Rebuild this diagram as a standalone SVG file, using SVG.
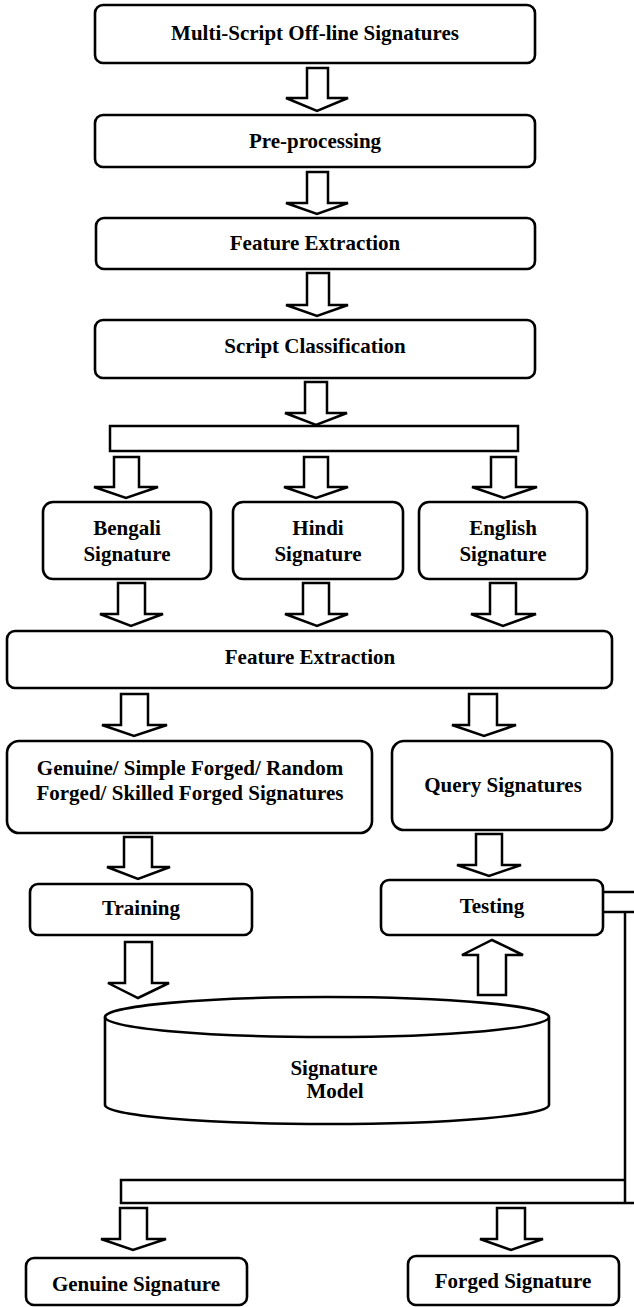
<svg xmlns="http://www.w3.org/2000/svg" width="634" height="1307" viewBox="0 0 634 1307">
<style>
.box{fill:#fff;stroke:#000;stroke-width:2.6}
.arr{fill:#fff;stroke:#000;stroke-width:2.5;stroke-linejoin:miter}
.ln{fill:none;stroke:#000;stroke-width:2.5}
.t{font-family:"Liberation Serif","Times New Roman",serif;font-weight:bold;font-size:21px;fill:#000;text-anchor:middle}
</style>
<rect width="634" height="1307" fill="#fff"/>
<g id="connectors">
<polygon class="arr" points="307,68 328,68 328,98 348,98 317,111 286,98 307,98"/>
<polygon class="arr" points="307,172 328,172 328,203 348,203 317,214 286,203 307,203"/>
<polygon class="arr" points="307,273 329,273 329,305 348,305 317,316 286,305 307,305"/>
<polygon class="arr" points="305,382 327,382 327,413 347,413 316,425 285,413 305,413"/>
<rect id="split1" class="ln" x="110" y="426" width="408" height="25" style="fill:#fff"/>
<polygon class="arr" points="114,457 139,457 139,487 158,487 126,498 94,487 114,487"/>
<polygon class="arr" points="304,457 328,457 328,487 348,487 316,498 284,487 304,487"/>
<polygon class="arr" points="491,457 516,457 516,487 537,487 504,498 472,487 491,487"/>
<polygon class="arr" points="118,583 145,583 145,614 163,614 131,626 100,614 118,614"/>
<polygon class="arr" points="303,583 329,583 329,614 348,614 317,626 285,614 303,614"/>
<polygon class="arr" points="490,583 516,583 516,614 536,614 503,626 471,614 490,614"/>
<polygon class="arr" points="121,694 148,694 148,725 167,725 134,736 102,725 121,725"/>
<polygon class="arr" points="469,694 497,694 497,725 516,725 484,736 452,725 469,725"/>
<polygon class="arr" points="124,837 152,837 152,867 170,867 138,879 107,867 124,867"/>
<polygon class="arr" points="476,834 502,834 502,865 521,865 489,876 457,865 476,865"/>
<polygon class="arr" points="125,942 152,942 152,983 169,983 138,998 108,983 125,983"/>
<polygon class="arr" points="478,995 506,995 506,955 523,955 492,940 462,955 478,955"/>
<path class="ln" d="M603,892 H634 M603,912 H634 M625,912 V1203 M625,1180 H121 V1203 H634"/>
<polygon class="arr" points="120,1208 147,1208 147,1239 166,1239 133,1250 101,1239 120,1239"/>
<polygon class="arr" points="497,1208 525,1208 525,1239 543,1239 511,1250 480,1239 497,1239"/>
</g>
<g id="n1"><rect class="box" x="95" y="5" width="440" height="58" rx="8"/><text class="t" x="315" y="40">Multi-Script Off-line Signatures</text></g>
<g id="n2"><rect class="box" x="95" y="115" width="440" height="52" rx="8"/><text class="t" x="315" y="148">Pre-processing</text></g>
<g id="n3"><rect class="box" x="96" y="218" width="439" height="51" rx="8"/><text class="t" x="315" y="250">Feature Extraction</text></g>
<g id="n4"><rect class="box" x="95" y="320" width="440" height="58" rx="8"/><text class="t" x="315" y="353">Script Classification</text></g>
<g id="n5"><rect class="box" x="43" y="502" width="168" height="77" rx="10"/><text class="t" x="127" y="535">Bengali</text><text class="t" x="127" y="561">Signature</text></g>
<g id="n6"><rect class="box" x="233" y="502" width="170" height="77" rx="10"/><text class="t" x="318" y="535">Hindi</text><text class="t" x="318" y="561">Signature</text></g>
<g id="n7"><rect class="box" x="419" y="502" width="168" height="77" rx="10"/><text class="t" x="503" y="535">English</text><text class="t" x="503" y="561">Signature</text></g>
<g id="n8"><rect class="box" x="7" y="631" width="605" height="57" rx="8"/><text class="t" x="310" y="664">Feature Extraction</text></g>
<g id="n9"><rect class="box" x="7" y="741" width="365" height="92" rx="12"/><text class="t" x="190" y="775">Genuine/ Simple Forged/ Random</text><text class="t" x="190" y="800">Forged/ Skilled Forged Signatures</text></g>
<g id="n10"><rect class="box" x="392" y="741" width="220" height="89" rx="12"/><text class="t" x="503" y="792">Query Signatures</text></g>
<g id="n11"><rect class="box" x="30" y="884" width="222" height="51" rx="8"/><text class="t" x="141" y="915">Training</text></g>
<g id="n12"><rect class="box" x="381" y="880" width="222" height="55" rx="8"/><text class="t" x="492" y="913">Testing</text></g>
<g id="n13"><path class="box" d="M105,1017 A222,20 0 0,1 549,1017 L549,1105 A222,19 0 0,1 105,1105 Z"/><path class="ln" d="M105,1017 A222,20 0 0,0 549,1017"/><text class="t" x="334" y="1075">Signature</text><text class="t" x="335" y="1098">Model</text></g>
<g id="n14"><rect class="box" x="26" y="1258" width="221" height="47" rx="8"/><text class="t" x="136" y="1291">Genuine Signature</text></g>
<g id="n15"><rect class="box" x="408" y="1256" width="211" height="49" rx="8"/><text class="t" x="513" y="1288">Forged Signature</text></g>
</svg>
